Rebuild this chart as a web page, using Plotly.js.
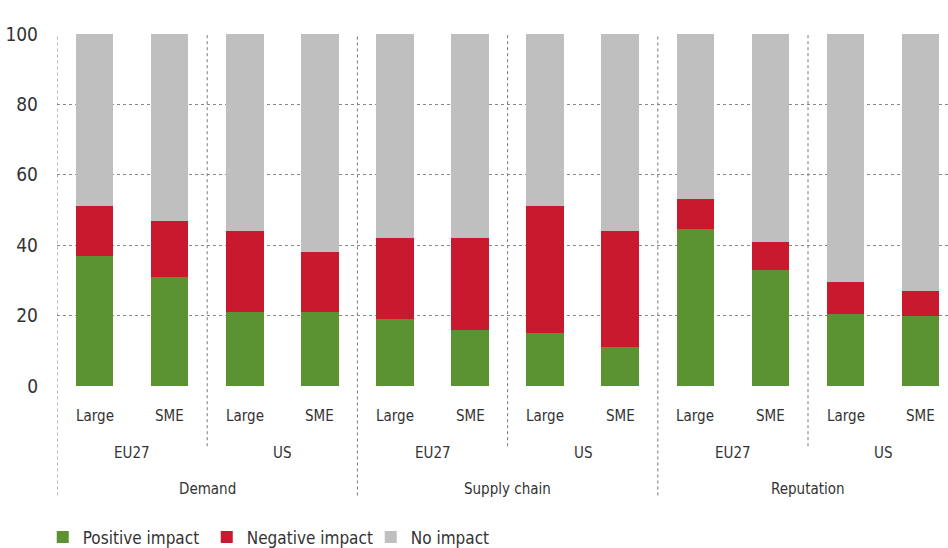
<!DOCTYPE html>
<html>
<head>
<meta charset="utf-8">
<script src="https://cdn.plot.ly/plotly-3.0.1.min.js"></script>
<style>html,body{margin:0;padding:0;background:#fff;}#chart{width:948px;height:548px;}</style>
</head>
<body>
<div id="chart"></div>
<script>
// Data
const sizeLabels = ["Large","SME","Large","SME","Large","SME","Large","SME","Large","SME","Large","SME"];
const regionLabels = ["EU27","US","EU27","US","EU27","US"];
const groupLabels = ["Demand","Supply chain","Reputation"];
const positive = [37, 31, 21, 21, 19, 16, 15, 11, 44.5, 33, 20.5, 20];
const negative = [14, 16, 23, 17, 23, 26, 36, 33, 8.5, 8, 9, 7];
const noImpact = [49, 53, 56, 62, 58, 58, 49, 56, 47, 59, 70.5, 73];
const seriesNames = ["Positive impact","Negative impact","No impact"];
const yTicks = [0, 20, 40, 60, 80, 100];

const FONT = '"DejaVu Sans Condensed", "Liberation Sans Narrow", "Roboto", sans-serif';
const TXT = '#333333';
const colors = ['#5B9232', '#C8192E', '#BFBFBF'];
const xs = sizeLabels.map((_, i) => i);

const traces = [positive, negative, noImpact].map((vals, k) => ({
  type: 'bar', x: xs, y: vals, name: seriesNames[k],
  marker: {color: colors[k], line: {width: 0}},
  width: 0.5, hoverinfo: 'skip'
}));

const annotations = [];
sizeLabels.forEach((t, i) => annotations.push({
  x: i, xref: 'x', y: -0.086, yref: 'paper', text: t, showarrow: false,
  xanchor: 'center', yanchor: 'middle', font: {family: FONT, size: 15, color: TXT}
}));
regionLabels.forEach((t, i) => annotations.push({
  x: 2 * i + 0.5, xref: 'x', y: -0.19, yref: 'paper', text: t, showarrow: false,
  xanchor: 'center', yanchor: 'middle', font: {family: FONT, size: 15, color: TXT}
}));
groupLabels.forEach((t, i) => annotations.push({
  x: 4 * i + 1.5, xref: 'x', y: -0.292, yref: 'paper', text: t, showarrow: false,
  xanchor: 'center', yanchor: 'middle', font: {family: FONT, size: 15, color: TXT}
}));

const shapes = [];
const divLine = (x, y0) => ({
  type: 'line', xref: 'x', yref: 'paper', x0: x, x1: x, y0: y0, y1: 1,
  line: {color: '#777', width: 1, dash: 'dot'}, layer: 'below'
});
[-0.5, 3.5, 7.5].forEach(x => shapes.push(divLine(x, -0.311)));
[1.5, 5.5, 9.5].forEach(x => shapes.push(divLine(x, -0.171)));

const layout = {
  width: 948, height: 548,
  margin: {l: 57, r: 0, t: 34, b: 162, pad: 0, autoexpand: false},
  paper_bgcolor: '#fff', plot_bgcolor: '#fff',
  barmode: 'stack', bargap: 0.5,
  font: {family: FONT, color: TXT},
  xaxis: {range: [-0.5, 11.364], showticklabels: false, showgrid: false,
          zeroline: false, showline: false, ticks: '', fixedrange: true},
  yaxis: {range: [0, 100], tickvals: yTicks, ticktext: yTicks.map(String),
          showgrid: true, gridcolor: '#888', griddash: 'dot', gridwidth: 1,
          zeroline: false, showline: false, ticks: '', ticklabelstandoff: 18,
          tickfont: {family: FONT, size: 19, color: TXT}, fixedrange: true},
  legend: {orientation: 'h', x: -0.016, xanchor: 'left', y: -0.43, yanchor: 'middle',
           font: {family: FONT, size: 17, color: TXT}, entrywidth: 119, entrywidthmode: 'pixels',
           traceorder: 'normal', itemclick: false},
  annotations: annotations, shapes: shapes, showlegend: true
};

Plotly.newPlot('chart', traces, layout, {displayModeBar: false, staticPlot: true});
</script>
</body>
</html>
